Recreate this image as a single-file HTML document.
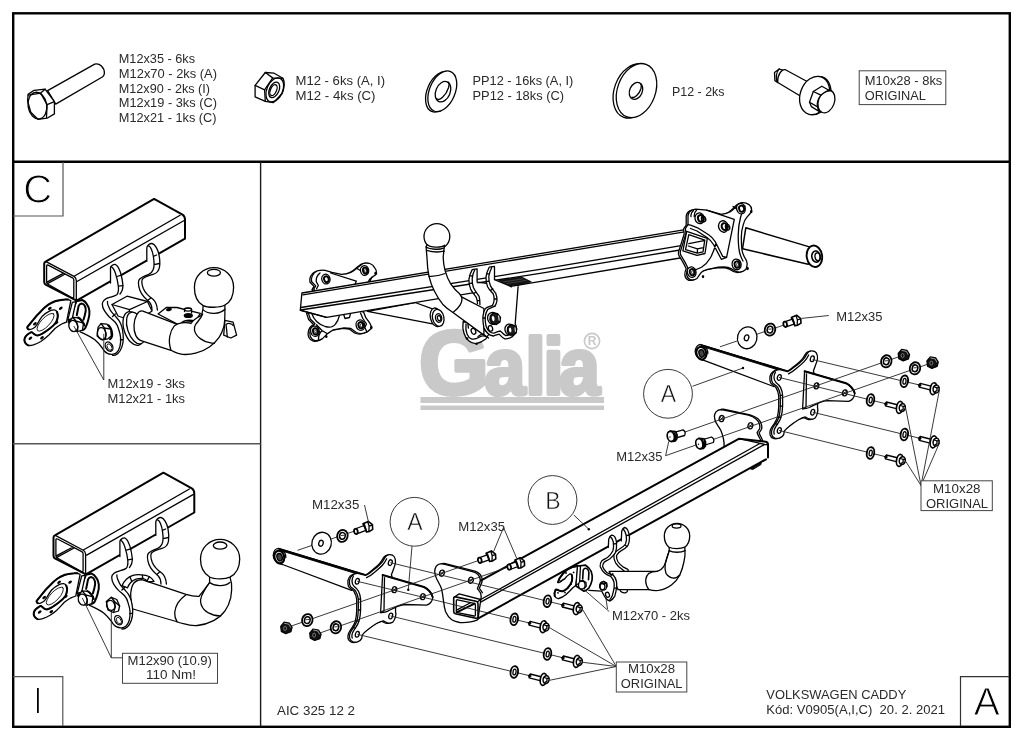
<!DOCTYPE html>
<html lang="cs"><head><meta charset="utf-8"><title>Galia AIC 325 12 2 - Volkswagen Caddy</title>
<style>
html,body{margin:0;padding:0;background:#fff;}
body{width:1024px;height:739px;overflow:hidden;}
svg{display:block;filter:grayscale(1);}
text{font-family:"Liberation Sans",sans-serif;fill:#222;}
.t{font-size:12.4px;fill:#2a2a2a;}
.k{fill:none;stroke:#000;stroke-width:1.3;stroke-linecap:round;stroke-linejoin:round;}
.k2{fill:none;stroke:#000;stroke-width:2;stroke-linecap:round;stroke-linejoin:round;}
.k3{fill:none;stroke:#000;stroke-width:0.8;stroke-linecap:round;stroke-linejoin:round;}
.w{fill:#fff;stroke:#000;stroke-width:1.3;stroke-linecap:round;stroke-linejoin:round;}
.w2{fill:#fff;stroke:#000;stroke-width:2;stroke-linecap:round;stroke-linejoin:round;}
.w3{fill:#fff;stroke:#000;stroke-width:0.8;stroke-linecap:round;stroke-linejoin:round;}
.l{fill:none;stroke:#222;stroke-width:0.9;}
.b{fill:#fff;stroke:#444;stroke-width:1;}
.d{fill:#000;stroke:none;}
</style></head><body>
<svg width="1024" height="739" viewBox="0 0 1024 739">
<rect x="0" y="0" width="1024" height="739" fill="#fff"/>
<g id="logo"><title>Galia</title>
<text transform="translate(0,394.3) scale(0.92,1)" x="455.5 526.5 571 590.5 607.5" y="0" style="font-family:'Liberation Sans',sans-serif;font-weight:bold;font-size:80px;fill:#c9c9c9;stroke:#c9c9c9;stroke-width:4;stroke-linejoin:round"><tspan style="font-size:90px" textLength="76" lengthAdjust="spacingAndGlyphs">G</tspan>alia</text>
<rect x="420.5" y="397" width="183.5" height="6" fill="#c9c9c9"/>
<rect x="420.5" y="405.5" width="183.5" height="4.5" fill="#c9c9c9"/>
<circle cx="592" cy="341" r="7.6" fill="none" stroke="#c9c9c9" stroke-width="1.6"/>
<text x="592" y="345.4" text-anchor="middle" style="font-size:12px;font-weight:bold;fill:#c9c9c9">R</text>
</g>
<g id="frame">
<rect x="13.2" y="13.3" width="996.6" height="713.5" fill="none" stroke="#000" stroke-width="2.4"/>
<line x1="13" y1="161.85" x2="1009.8" y2="161.85" stroke="#000" stroke-width="2.5"/>
<line x1="260.6" y1="162" x2="260.6" y2="726" stroke="#1a1a1a" stroke-width="1.4"/>
<line x1="13" y1="443.8" x2="260.6" y2="443.8" stroke="#555" stroke-width="1.5"/>
<path d="M63 162V216H13" fill="none" stroke="#555" stroke-width="1.2"/>
<path d="M13 676.6H62.8V726" fill="none" stroke="#555" stroke-width="1.2"/>
<path d="M1009 676.6H960.5V726" fill="none" stroke="#333" stroke-width="1.2"/>
</g>

<g id="icon-bolt-m12">
<path class="w" d="M47.6 90.6L94.7 64.1C99.5 62.6 104.6 67.6 104.4 73.3C104.2 75 103.4 76.3 102.3 77L55.7 104.1Z"/>
<path class="w" d="M28.1 94.4L34.1 90.3L45.1 89.2L54.4 101.7V113.9L47.1 118.2L37.9 119.3L30.8 112.2L27.6 100.9Z"/>
<ellipse class="k" cx="37.4" cy="105.6" rx="9.3" ry="13.4" transform="rotate(-9 37.4 105.6)"/>
<path class="k" d="M28.3 95.2L40.6 93.1L47.1 104.7L46.5 117.3M47.1 104.7L54.4 101.7M40.6 93.1L45.1 89.2"/>
</g>
<g id="icon-nut-m12">
<path class="w" d="M255.1 85.4L265.3 72.5L274.1 73.2L282.9 78.3C284.4 81 284.4 84.5 283.9 87.1C283.6 89.6 283 92 281.9 93.8L273.4 102.6L265.3 101.3L255.1 96.9Z"/>
<path class="k" d="M265.3 72.5L272.7 77.9L282.9 78.3M272.7 77.9L264.6 89.8L255.1 85.4M264.6 89.8L265.3 101.3"/>
<ellipse class="k" cx="274.8" cy="89.9" rx="7.9" ry="12.7" transform="rotate(24 274.8 89.9)"/>
<ellipse class="k" cx="274.2" cy="89.9" rx="4.8" ry="8.2" transform="rotate(24 274.2 89.9)"/>
<ellipse class="k" cx="273.5" cy="90.1" rx="3" ry="5.8" transform="rotate(24 273.5 90.1)"/>
</g>
<g id="icon-washer-pp12">
<ellipse class="w" cx="440" cy="91.7" rx="12.8" ry="21.4" transform="rotate(23 440 91.7)"/>
<ellipse class="w" cx="442.3" cy="91.3" rx="12.8" ry="21.4" transform="rotate(23 442.3 91.3)"/>
<ellipse class="k" cx="443" cy="91.7" rx="7.2" ry="10.7" transform="rotate(23 443 91.7)"/>
<path class="k" d="M436.8 98.6C439 101.5 446 96 448.6 87.5C449.4 84.6 449 82.9 448.4 82.2"/>
</g>
<g id="icon-washer-p12">
<ellipse class="w" cx="633.3" cy="91.1" rx="19" ry="27.9" transform="rotate(20 633.3 91.1)"/>
<ellipse class="w" cx="636.5" cy="90.6" rx="19" ry="27.9" transform="rotate(20 636.5 90.6)"/>
<ellipse class="k" cx="636" cy="90.9" rx="6.3" ry="8.8" transform="rotate(24 636 90.9)"/>
<path class="k" d="M632 97.2C634 98.6 639.5 94 641 88.5C641.5 86 641.3 84.8 640.9 84"/>
</g>
<g id="icon-flangebolt">
<path class="w" d="M779.2 69L774.5 72.5L774.9 80.6L777.8 82.5L801.5 96.7L809 82.5L785.4 69.7C784.3 69.4 783.3 69.6 782.5 70.2Z"/>
<path class="k" d="M782.5 70.2C780.5 71.5 779 74 778.2 77C777.7 79.3 777.6 81 777.8 82.5M779.2 69C778 70 776.6 72.5 776.4 75.5C776.3 78 776.4 80 777 81.9"/>
<ellipse class="w" cx="815.9" cy="95.5" rx="14.5" ry="19.6" transform="rotate(19 815.9 95.5)"/>
<ellipse class="w" cx="814.7" cy="95.5" rx="14.5" ry="19.6" transform="rotate(19 814.7 95.5)"/>
<ellipse class="w" cx="826.4" cy="101.4" rx="8" ry="11.8" transform="rotate(20 826.4 101.4)"/>
<path class="w" d="M813.3 91.5L821.8 86.25L830.3 91C829 90.3 825 91.5 820.9 95.2C818 99 816.6 103.5 817.6 106.9C817.8 109 818.5 110.8 819.5 111.8L811.4 106.6L809.5 102.3Z"/>
<path class="k" d="M813.3 91.5L820.9 95.2M809.5 102.3L817.6 106.9"/>
</g>

<g id="panelC">
<g id="c-socket">
<path class="w" d="M70.8 300.6C68 299.3 66 299.3 64.7 299.5C61.5 299.8 58.5 300.2 55.7 301C53 302 50.5 303.2 48.3 304.7C45.5 306.7 43 309 40.8 311.4C38 314 35.5 316.8 33.4 319.6C31.2 322.3 29 325 27.4 327C27.1 327.5 27.2 327.8 27.4 328.1C27.7 328.8 28 329.2 28.6 329.4C29.5 329.6 30.4 329.5 31.2 329.25C32.5 328.8 33.8 328 34.9 327.2C35.7 326.4 36.4 325.4 37.1 324.4C38.7 321.6 40.3 318.7 42.3 316.2C44.5 314 47 312.2 49.8 310.8C51.2 310.2 52.8 309.8 54.25 309.9C55.5 310 56.4 310.7 56.9 311.75C57.6 313.2 57.9 315 57.75 316.6C57.6 318.5 57 320.5 56.1 322.2C54.5 324.6 52.2 326.6 49.8 328.5C47.4 330.4 44.8 332.2 42.3 333.7C40.8 334.5 39 335.3 37.5 335.6C36.2 335.6 35 334.9 34.1 334.1C33.3 333.5 32.6 332.7 31.9 332.2C31.2 332 30.4 332.5 29.7 333C28.5 333.7 27.3 334.6 26.3 335.6C25.5 336.6 24.8 337.8 24.5 338.9C24.2 340.2 24.5 341.6 25.2 342.7C25.9 343.9 27 344.8 28.2 345.3C29.8 345.7 31.7 345.4 33.4 344.9C36 344 38.5 342.8 40.8 341.5C43.5 339.8 46 337.7 48.3 335.6C50.6 333.3 52.8 330.8 55 328.5C57.2 326.8 59.5 325.3 61.7 324C63.3 323.3 65 322.7 66.5 322.2Z"/>
<path class="k2" d="M68 299.5C66 299.3 65.5 299.4 64.7 299.5C61.5 299.8 58.5 300.2 55.7 301C53 302 50.5 303.2 48.3 304.7C45.5 306.7 43 309 40.8 311.4C38 314 35.5 316.8 33.4 319.6C31.2 322.3 29 325 27.4 327C27.1 327.5 27.2 327.8 27.4 328.1C27.7 328.8 28 329.2 28.6 329.4"/>
<path class="k2" d="M56.9 311.75C57.6 313.2 57.9 315 57.75 316.6C57.6 318.5 57 320.5 56.1 322.2C54.5 324.6 52.2 326.6 49.8 328.5C47.4 330.4 44.8 332.2 42.3 333.7C40.8 334.5 39 335.3 37.5 335.6C36.2 335.6 35 334.9 34.1 334.1C33.3 333.5 32.6 332.7 31.9 332.2C31.2 332 30.4 332.5 29.7 333C28.5 333.7 27.3 334.6 26.3 335.6C25.5 336.6 24.8 337.8 24.5 338.9C24.2 340.2 24.5 341.6 25.2 342.7C25.9 343.9 27 344.8 28.2 345.3"/>
<ellipse class="k3" cx="45.6" cy="322.2" rx="11.6" ry="4.3" transform="rotate(-46.5 45.6 322.2)"/>
<ellipse class="d" cx="49.8" cy="308.4" rx="2.1" ry="1.3" transform="rotate(-35 49.8 308.4)"/><ellipse class="d" cx="60.8" cy="308.3" rx="2.1" ry="1.3" transform="rotate(-35 60.8 308.3)"/><ellipse class="d" cx="34.9" cy="323.7" rx="2.1" ry="1.3" transform="rotate(-35 34.9 323.7)"/><ellipse class="d" cx="56.5" cy="322.7" rx="2.1" ry="1.3" transform="rotate(-35 56.5 322.7)"/><ellipse class="d" cx="30.4" cy="338.2" rx="2.1" ry="1.3" transform="rotate(-35 30.4 338.2)"/><ellipse class="d" cx="42" cy="337.8" rx="2.1" ry="1.3" transform="rotate(-35 42 337.8)"/>
</g>
<g id="c-tube">
<path class="w2" d="M46 261.4L154.1 198.9L182.5 214.6Q185 216.2 185 219.5V238.7L76.6 300.6L45.6 284.6Q44.2 283.8 44.2 282V263.5Q44.3 261.7 46 261.4Z"/>
<path class="k" d="M46 261.6L74 276.4Q76.2 277.8 76.3 280.5V300.5M74.5 276L180.1 215.2M77.4 281.3L184.6 220.3"/>
<path class="k" d="M48.2 265.2L72.5 277.8Q73.8 278.6 73.8 280V296.5Q73.8 298.6 72 297.7L47.6 284Q46.6 283.4 46.6 282.2V266.2Q46.7 264.5 48.2 265.2ZM46.9 282.1L63.2 273.4M47.5 283.6L64.4 274.5"/>
</g>
<g id="c-rear">
<!-- rear plate with hook 2 -->
<path d="M146.8 261.4V247.9C147 245.5 149.5 243.4 152 243.5C155 244 158 249.5 159 254.9C159.9 259.5 160 264 159.5 267C158.8 271.5 156 273.6 153 274.4C149.5 275.3 145 276.8 142.8 278.7C141.3 280.3 141.3 283 143.3 288.5C145 292.5 149 296.5 153 299.3C155.7 301.6 157 305 157.4 310L152 311C152 306.6 151 303.8 149.3 302C146 299.3 141.5 294.5 140 290.6C138 284.6 138 281 139.5 279.3C141 277.6 143 276.8 144 276.4L146.8 268Z" fill="#fff" stroke="none"/>
<path class="k" d="M146.8 261.4V247.9C147 245.5 149.5 243.4 152 243.5C155 244 158 249.5 159 254.9C159.9 259.5 160 264 159.5 267C158.8 271.5 156 273.6 153 274.4C149.5 275.3 145 276.8 142.8 278.7C141.3 280.3 141.3 283 143.3 288.5C145 292.5 149 296.5 153 299.3C155.7 301.6 157 305 157.4 310"/>
<path class="k" d="M148.3 245.9C150.5 246 152.8 251.5 153.6 258.1C154.3 263 154.2 267.5 153 270C152 272.6 150.5 273.6 148.7 274.4C145.5 275.6 141.5 277 139.5 279.3C138 281 138 284.6 140 290.6C141.5 294.5 146 299.3 149.3 302C151 303.8 152 306.6 152 310M153.4 256.4L156.6 255M154.1 264.6L159.3 263.5M147.6 300.4L150.7 298.1"/>
</g>
<g id="c-hitch">
<!-- connecting block -->
<path class="w" d="M112 304.5L127 296.2L147.5 301.5L152 311L136 322L118 316Z"/>
<path class="k" d="M112 304.5L129.5 309.6L147.5 301.5M129.5 309.6L127.5 321"/>
<!-- ring collar + cylinder -->
<ellipse class="w" cx="133.5" cy="328.5" rx="9.5" ry="17.5" transform="rotate(-18 133.5 328.5)"/>
<ellipse class="w" cx="136" cy="328" rx="8.5" ry="16.5" transform="rotate(-18 136 328)"/>
<path class="w" d="M142.9 311.1L179.2 325.1L171 350.3L141.7 340.9C136.5 339.3 133.6 333 134 325C134.5 317 138 309.8 142.9 311.1Z"/>
<!-- flat plate on top -->
<path class="w" d="M158.1 314L166.3 307.5L176.9 307.5L200.3 313.4L195.6 321L181.6 322.8L179.2 325.1Z"/>
<ellipse class="d" cx="169" cy="309.6" rx="3" ry="1.6" transform="rotate(-10 169 309.6)"/>
<path class="w" d="M184.5 311.5V309.5C184.5 307.6 191.6 307.6 191.6 309.5V313"/>
<ellipse class="k" cx="188" cy="309.5" rx="3.5" ry="1.6"/>
<ellipse class="d" cx="188.3" cy="315.5" rx="4.6" ry="2.6"/>
<path class="k" d="M181.6 322.8C184 320.5 190 319.8 195.6 321"/>
<!-- small cup right -->
<path class="w" d="M224.9 320.3L233.1 322.2L236.6 335.1L230.8 338L223.7 335.1Z"/>
<path class="k" d="M226 324.5C228 322.8 232 323.3 233.1 325.5M227.3 337C227 333 226.5 328 226 324.5"/>
<!-- elbow + neck -->
<path class="w" d="M174.5 325.7C178 323 185 321.5 191 323.5C193 320.5 197 317.5 200.5 316C202 314.5 203 310 203.2 305.2L224.9 304.6L224.9 309.3C225 318 224.8 323 223.75 326.9C222.6 331 221 334.5 219.1 337.4C216.5 341 213.5 344.2 209.7 346.8C205.5 349.8 200.5 352.2 195.6 353.2C191.5 354.2 187 354.7 182.7 354.4C178.5 354 174.5 352.2 171 350.3C169.5 346 169 340.5 169.8 336.25C170.6 332 172.3 328.3 174.5 325.7Z"/>
<path class="k" d="M202.7 314C201 318.5 197.5 321.8 195.6 324.5C194.3 326.5 194 328.5 194.5 330.4C195.3 333.5 197.5 336.6 200.3 338.6C203 340.6 206.5 342.2 209.7 342.7C211.5 343.2 213 343.4 214.4 343.3M203.2 309.9C206 312.6 210 313.5 214.4 313.4C218.5 313.2 222.5 311.8 224.9 309.3"/>
<!-- ball -->
<path class="w" d="M203.2 305.6C197.5 302.5 194.4 295.5 194.4 287.2C194.4 276.3 203.2 267.6 214 267.6C224.8 267.6 233.6 276.3 233.6 287.2C233.6 295.5 230.5 302 224.9 305C220 307.8 208 308 203.2 305.6Z"/>
<ellipse class="k" cx="213.9" cy="272.7" rx="6.5" ry="3.4"/>
</g>
<g id="c-front">
<!-- front plate fill -->
<path d="M110.5 283V267.9C110.6 265.8 113.5 264.2 115.2 264.3C117.5 265 119.2 268.8 120.5 272.5C121.5 276 122.5 280.5 122.9 285C123 288 122.6 291 120 294L108.4 306C109.5 309 111 311.4 113 313.5C116 316.5 119.5 321 120.6 323.6C122 327 123 333 123.3 338.5C123.3 343 122.8 345 122 346.6C121 350 119.5 352 117.9 353.4C116 355 114 355.6 112.5 355.4L111.1 354.3C108.5 354.2 105.7 352.7 104 350.5C102 347.5 98 343 94.9 339.8C90 336 85 334 80 331.7L84 318L95 305L110.5 290Z" fill="#fff" stroke="none"/>
<path class="k" d="M110.5 283V267.9C110.6 265.8 113.5 264.2 115.2 264.3C117.5 265 119.2 268.8 120.5 272.5C121.5 276 122.5 280.5 122.9 285C123 288 122.6 291 120 294"/>
<path class="k" d="M111.1 266.6C113 267.5 114.4 270 115.5 273.5C116.5 276.5 117.8 281.5 118.4 286.7C118.6 289 118.5 291 118 292.5C117.6 293.8 117.3 294.3 116.8 294.8C115 296 112.5 296.6 110.3 297.2C107.5 298 105.5 298.8 104.6 299.7C103 301 102.3 302.3 102.3 303.7C102.3 306 103 308.5 104.4 310.7C105.8 313 107.5 315 109.1 316.8C111 318.7 113.5 320.3 115.2 322.2C117 324.3 118 326.5 118.6 329C119.6 332 120.5 335 120.6 337.8C120.8 341 120.6 344 119.9 346.6C119.2 349 118 351.4 116.5 352.7C115 354 113 354.5 111.1 354.3C108.5 354.2 106 353 104.3 351C103.3 350 102.8 349 102.3 348C100 345 97.5 342 94.9 339.8C90.5 336.5 85 334 80 331.7"/>
<path class="k" d="M107.5 301.3C107.3 303 107.6 304.5 108.4 306C109.2 308 110 310 111.1 311.4C112.8 313.5 114.8 315.5 116.5 317.5C118.3 319.3 119.8 321.5 120.6 323.6C121.6 325.8 122.2 328 122.6 330.4C123 333 123.4 336 123.3 338.5C123.2 341.5 122.8 344.5 122 346.6C121 349.5 119.7 352 117.9 353.4C116.3 354.8 114.5 355.5 112.5 355.4M112.5 316.5L115.3 314M120.4 340L123.2 339.5M117 276.5L121.3 275.2M118.5 286.2L122.8 285.6"/>
<!-- hole -->
<ellipse class="k" cx="109.1" cy="346.6" rx="3.4" ry="5" transform="rotate(-30 109.1 346.6)"/>
<ellipse class="k3" cx="109.5" cy="347" rx="2.1" ry="3.5" transform="rotate(-30 109.5 347)"/>
<!-- loop strap -->
<path class="w2" d="M76.4 301.2L82.3 300C84.3 300.8 85.8 302.3 86.8 304.1C88.2 306 89.2 308.4 89.4 310.8C89.7 314 89.2 317 88.3 319.8C87.6 322.8 86.5 325.6 85.3 328C84.5 329.2 83.5 329.9 82.3 330.2L68.5 322Z"/>
<path class="k2" d="M76.75 315.3L78.6 306C79.2 304.4 80.4 303.5 81.6 303.4C83.1 303.5 84.3 304.6 84.9 306C85.6 307.5 85.9 309.2 85.7 310.8C85.3 314 84.4 317 83.5 319.8"/>
<path class="w" d="M72.3 302.3L67.8 319.8L72.3 318.5L75.9 301.7Z"/>
<!-- bolt 1 -->
<path class="w" d="M68.8 322.2L72.7 317.3L78.6 317.8L83.5 323.2L82.5 330L77.6 331.5L71.8 330.5Z"/>
<ellipse class="w" cx="73.3" cy="326" rx="4.4" ry="5.6" transform="rotate(-15 73.3 326)"/>
<path class="k" d="M72.7 317.3L76.2 321.2L77.8 326.5L77.6 331.5M76.2 321.2L83.5 323.2"/>
<path class="k2" d="M78 317.5C80.5 318.5 83.6 322 84.4 325.5"/>
</g>
<g id="c-bolt2">
<!-- bolt 2 -->
<path class="w" d="M98.1 327.1L101 323.7L106.9 324.2L110.8 329.1L111.3 335.9L107.9 338.8L102 339.8L97.1 335.9Z"/>
<path class="k2" d="M108.5 325.2C110.6 327.5 112 330.5 112.2 334C112.3 336.5 111.5 338.2 110 339.3"/>
<ellipse class="k" cx="101.7" cy="333.6" rx="4.3" ry="6" transform="rotate(-10 101.7 333.6)"/>
<path class="k" d="M101 323.7L104.5 328L106 334.5L105.4 339.3M104.5 328L110.8 329.1"/>
</g>
<!-- leaders -->
<path class="l" d="M73.8 326L103.8 380V333.8"/>
</g>

<g id="panelI">
<use href="#c-socket" transform="translate(9.3,273.8)"/>
<use href="#c-tube" transform="translate(9.3,273.8)"/>
<use href="#c-rear" transform="translate(9,274)"/>
<g id="i-hitch">
<!-- bar -->
<path class="w" d="M142.6 579.8L186 594.3C190 595.5 195 596.5 199 596.3C201.5 593 204 590.5 205.5 588C207.5 585.5 209 583.5 209.6 582.5V576L229.9 576.8L231.5 583.3C232 588 231.6 593 230.7 597.9C229.5 603 227.5 607.5 225 610.9C222 615 218 618.3 213.6 620.6C208.5 623.2 203 625 197.4 625.5C193 625.8 188.5 625.2 184.4 623.9C181.5 623.3 179 622.5 176.3 621.5L132.9 609C131.6 607 131.1 604.5 131.3 602C130.8 599 130.6 596 130.7 593.3C131 590.5 131.5 588 132.3 585.7C134 582 138 579.5 142.6 579.8Z"/>
<path class="k" d="M186 594.8C183 597 180 600 177.9 602.8C176 606 175 609.5 174.7 612.5C174.6 616 175.5 619.5 177.1 621.9M209.6 582.5C207.5 585.5 205.5 588.5 203.9 591.4C202.3 594 201 596.8 200.6 599.5C200.3 603 201.5 606.5 203.9 609.3C206.3 612 210 614 213.6 615C216 615.6 218.5 615.9 220.9 615.8M209.6 582.5C213 585 216.5 585.8 220.1 585.7C224 585.6 227.5 584.5 229.9 582.5"/>
<!-- ball -->
<path class="w" d="M209.6 577C203.8 573.5 200.5 567 200.5 559C200.5 548.2 209.3 539.4 220.1 539.4C230.9 539.4 239.7 548.2 239.7 559C239.7 567 236 574 229.9 577.2C225 579.6 214 579.4 209.6 577Z"/>
<ellipse class="k" cx="220.1" cy="545.6" rx="6.8" ry="3.6"/>
<!-- sleeve arc -->
<path class="w" d="M122.1 585.7C123 583 124.5 581 126.4 579.2C128.3 577.5 130.5 576.2 132.9 575.4C135.6 574.6 138.6 574.5 141.5 574.9C144.2 575.1 147 575.6 149.1 576.5C151 577.6 152.8 579.3 154 581.4L148 581.6C146.5 580 144.5 578.8 142.6 578.4C140.5 578.2 138.2 578.5 136.1 579.2C134 580 132.2 581.1 130.7 582.5C129.3 584 128.2 586 127.5 587.9Z"/>
<path class="k" d="M130 577L131.8 581.6M142.3 575L142.8 578.4M149.3 576.6L147 581"/>
</g>
<use href="#c-front" transform="translate(9.4,273.6)"/>
<path class="l" d="M122.5 657.8H111.3L82.3 598M111.3 657.8V606.5"/>
</g>
<g id="i-bolt2">
<path class="w" d="M106.3 601.5L111.3 597.3L116.8 599.5L119.6 606L118.5 611L113.5 612.5L108 610Z"/>
<ellipse class="k" cx="110.7" cy="605.4" rx="4" ry="5" transform="rotate(-20 110.7 605.4)"/>
<path class="k" d="M111.3 597.3L114.5 601.5L115.3 607L113.5 612.5M114.5 601.5L119.6 606"/>
</g>

<g id="upper">
<!-- right arm -->
<path class="w" d="M745.8 227.8L809.4 246.9L814 256L808.2 264.2L742.5 248.8Z" style="stroke-width:1.5"/>
<ellipse cx="814.4" cy="256.3" rx="7.7" ry="10.8" transform="rotate(-8 814.4 256.3)" fill="#fff" stroke="#000" stroke-width="1.9"/>
<ellipse cx="816" cy="256.6" rx="4.2" ry="5.6" transform="rotate(-8 816 256.6)" fill="#fff" stroke="#000" stroke-width="1.6"/>
<ellipse class="k" cx="817.6" cy="256.8" rx="2.6" ry="3.9" transform="rotate(-8 817.6 256.8)"/>
<!-- left bracket (behind beam) -->
<path transform="translate(-1.7,0.5)" class="w" d="M313.7 289.2L315.7 285.9L311.7 281.8C311.2 279.5 311.4 277.5 312.3 275.7C313.5 273.5 315 272 317.1 271C319.8 270.2 322.5 270 325.2 270.3L331.9 272.3L341.4 274.4C344.8 274.2 348 273.5 350.9 272.3C353.5 271 355.8 269.4 357.7 267.6L363.1 263.5C365.4 262.8 367.6 262.8 369.8 263.5C372 264.4 373.7 265.8 374.6 267.6C376.2 269.5 376.9 271.5 376.6 273.7C375.7 275 374.6 275.8 373.2 276.4L369.8 279.1L366 286L320 296Z"/>
<path class="w" d="M313.7 289.2L315.7 285.9L311.7 281.8C311.2 279.5 311.4 277.5 312.3 275.7C313.5 273.5 315 272 317.1 271C319.8 270.2 322.5 270 325.2 270.3L331.9 272.3L341.4 274.4C344.8 274.2 348 273.5 350.9 272.3C353.5 271 355.8 269.4 357.7 267.6L363.1 263.5C365.4 262.8 367.6 262.8 369.8 263.5C372 264.4 373.7 265.8 374.6 267.6C376.2 269.5 376.9 271.5 376.6 273.7C375.7 275 374.6 275.8 373.2 276.4L369.8 279.1L366 286L320 296Z"/>
<path class="k" d="M330.6 273L356.3 281.1L355 284.5M320 273C317.5 275 316 278 316.2 281.5L318.3 285.5L316.5 289M357 268.5L362 271.5M372 277L370 281L367.5 285"/>
<path transform="translate(-1.7,0.5)" class="w" d="M308.3 312.9L310.3 319L315 323.7C312.5 325.5 311 327.5 310.3 329.8C309.6 332.2 309.6 334.5 310.3 336.6C311.3 338.8 313 340.2 315 340.7C317.7 341 320.3 340.2 322.5 338.6L327.2 333.9L333.3 329.8L344.1 327.8L350.9 328.5L356.3 332.5C358.8 333.6 361.3 333.8 363.7 333.2C366.5 332.5 369.3 330.8 371.2 328.5C371.4 326.6 371 324.8 369.8 323.1L365.8 317.7L363.7 312.2L340 305Z"/>
<path class="w" d="M308.3 312.9L310.3 319L315 323.7C312.5 325.5 311 327.5 310.3 329.8C309.6 332.2 309.6 334.5 310.3 336.6C311.3 338.8 313 340.2 315 340.7C317.7 341 320.3 340.2 322.5 338.6L327.2 333.9L333.3 329.8L344.1 327.8L350.9 328.5L356.3 332.5C358.8 333.6 361.3 333.8 363.7 333.2C366.5 332.5 369.3 330.8 371.2 328.5C371.4 326.6 371 324.8 369.8 323.1L365.8 317.7L363.7 312.2L340 305Z"/>
<path class="k" d="M311.7 313.5C314 320 318.5 324.5 325.2 326.5C330 327.8 333.5 327 335.5 324C337.5 321.5 338.7 318.5 339.4 315.6M316.5 324.8L322 330.5L327 333.5M322 330.5C319.5 333 318.3 336 318.5 339.8M360.5 313L362.8 318.5L366.5 324L364.8 327.5L367 332M343.5 314L345 318.5L349.5 317.5L350.5 313.5"/>
<g id="ub1"><ellipse class="w" cx="325.9" cy="279.1" rx="4.1" ry="4.9" transform="rotate(-15 325.9 279.1)"/><ellipse class="k" style="stroke-width:1.9" cx="326.4" cy="279.2" rx="2.3" ry="3" transform="rotate(-15 326.4 279.2)"/></g>
<g><ellipse class="w" cx="364.6" cy="270.5" rx="4.1" ry="4.9" transform="rotate(-15 364.6 270.5)"/><ellipse class="k" style="stroke-width:1.9" cx="365.3" cy="270.6" rx="2.3" ry="3" transform="rotate(-15 365.3 270.6)"/><ellipse class="k3" cx="365.8" cy="270.7" rx="1.2" ry="1.7"/><ellipse class="d" cx="375.6" cy="273.3" rx="1.3" ry="1.8"/></g>
<g><ellipse class="w" cx="360.4" cy="325.1" rx="4.3" ry="5.2" transform="rotate(-15 360.4 325.1)"/><ellipse class="k" style="stroke-width:1.9" cx="360.9" cy="325.2" rx="2.5" ry="3.2" transform="rotate(-15 360.9 325.2)"/><ellipse class="k3" cx="361.4" cy="325.3" rx="1.2" ry="1.7"/><ellipse class="d" cx="371.4" cy="327.5" rx="1.2" ry="1.7"/></g>
<g><ellipse class="w" cx="315" cy="331.2" rx="4.3" ry="5.2" transform="rotate(-15 315 331.2)"/><ellipse class="k" style="stroke-width:1.9" cx="315.5" cy="331.3" rx="2.5" ry="3.2" transform="rotate(-15 315.5 331.3)"/><ellipse class="k3" cx="316" cy="331.4" rx="1.2" ry="1.7"/><ellipse class="d" cx="326.3" cy="336.5" rx="1.2" ry="1.6"/></g>
<!-- left brace -->
<path class="w" d="M367.5 311.3L415 302.5L432.5 308.8L432.5 323.8Z"/>
<ellipse class="w" cx="436" cy="317.3" rx="5.6" ry="9.4" transform="rotate(-12 436 317.3)"/>
<ellipse class="w" cx="438.2" cy="317.8" rx="5.7" ry="8.6" transform="rotate(-12 438.2 317.8)"/>
<ellipse class="k" cx="438.6" cy="318" rx="3.1" ry="4.3" transform="rotate(-12 438.6 318)"/><ellipse class="k" cx="439.1" cy="318.1" rx="1.7" ry="2.6" transform="rotate(-12 439.1 318.1)"/>
<!-- beam -->
<path class="w" d="M301.9 293L686.7 229.4L707.3 238.4L705 253.5L697 255.4L686 257L326.5 317.4L300.3 310.2Z"/>
<path class="k" d="M302.9 294.9L686 231.6M300.8 307.5L540 269.3L684 245.2M300.5 310L540 273.4L683 249.5M326.5 317.4L300.4 310.3"/>
<path d="M499 280.5L521.5 277L531.3 281.8L511.5 286.9Z" fill="#151515" stroke="#000" stroke-width="0.8" stroke-linejoin="round"/>
<path d="M503 282L523 278.8M506.5 283.6L526.5 280.3" stroke="#777" stroke-width="0.45" fill="none"/>
<!-- right bracket -->
<g id="u-rb">
<path transform="translate(-1.8,0.5)" class="w" d="M688 224.6L688 215.6C688.5 213 690 211 691.9 210.2C693 209.5 694.3 209.2 695.7 209.1L706.6 210.2L721.4 214.3C724.8 214 728 213 730.4 211.7C733 210 735 208 736.8 205.9C738.3 204.3 740 203.2 742 202.7C744.5 202.5 747 203.2 749 204.6C750.8 206 751.7 208 751.6 210.4C751 213 749.3 215 747.1 216.9C745.3 219 744 221.8 743.3 224.6C742 228.5 741.3 233 741.3 237.4C741.3 242 741.6 246.4 742 250.3C742.8 253.8 744 256.8 745.8 259.3C746.8 260.8 747.2 262.5 747.1 264.4C747 266.5 746.6 268.2 745.8 269.6C744 271.2 741.8 272 739.4 272.1C736.5 271.8 734 270.6 731.7 268.9C729.4 267.7 726.8 267.1 724 267C720 267 716 267.5 712.4 268.3C709 268.9 706 269.7 703.4 270.8C701.8 271.8 700.5 273.1 699.6 274.7L697 278.5C695 279.8 692.8 280.2 690.6 279.8C688.5 279 687 277.2 686.7 274.7C686.5 272.5 687 270.3 688 268.3C686.8 265.5 685.5 263 684.1 260.6L680.9 255.4C680.3 254 680.1 252.8 680.3 251.6L686 233.5L685.4 228.4Z"/>
<path class="w" d="M688 224.6L688 215.6C688.5 213 690 211 691.9 210.2C693 209.5 694.3 209.2 695.7 209.1L706.6 210.2L721.4 214.3C724.8 214 728 213 730.4 211.7C733 210 735 208 736.8 205.9C738.3 204.3 740 203.2 742 202.7C744.5 202.5 747 203.2 749 204.6C750.8 206 751.7 208 751.6 210.4C751 213 749.3 215 747.1 216.9C745.3 219 744 221.8 743.3 224.6C742 228.5 741.3 233 741.3 237.4C741.3 242 741.6 246.4 742 250.3C742.8 253.8 744 256.8 745.8 259.3C746.8 260.8 747.2 262.5 747.1 264.4C747 266.5 746.6 268.2 745.8 269.6C744 271.2 741.8 272 739.4 272.1C736.5 271.8 734 270.6 731.7 268.9C729.4 267.7 726.8 267.1 724 267C720 267 716 267.5 712.4 268.3C709 268.9 706 269.7 703.4 270.8C701.8 271.8 700.5 273.1 699.6 274.7L697 278.5C695 279.8 692.8 280.2 690.6 279.8C688.5 279 687 277.2 686.7 274.7C686.5 272.5 687 270.3 688 268.3C686.8 265.5 685.5 263 684.1 260.6L680.9 255.4C680.3 254 680.1 252.8 680.3 251.6L686 233.5L685.4 228.4Z"/>
<path class="k" d="M691 216.5C690.6 214 691.5 212 693.5 210.5M694.3 216.7C694 214 694.8 211.8 696.5 210.3M688 224.6L690.6 225.2L697.6 227.8L708.6 234.8C711.5 236.8 713.5 239 715 241.3L722.7 256.4L726.6 257.3L734.3 219.4L706.6 210.2M690.5 228.5L697 231L707 237.5C710 239.7 712 242 713.5 244.5L721.3 259.3L726.6 257.3M745 206C743 209.5 741.5 213.5 740.5 217.5C739 223 738.3 229 738.2 235.5C738.2 241.5 738.6 247.5 739.5 252C740.3 255.5 741.5 258.5 743 261M716 243.5C714.5 249 712.5 254 710.3 258C708 262 705 265 701.5 267.3C698.5 269 695 270 692 270M688 268.3C690 271 692.5 273 695.5 274.3M733 206.5L737.5 209.5"/>
<!-- tube end -->
<path class="w" d="M686.7 231.4L707.3 238.4L705 253.5L697 255.4L682.9 250.9Z"/>
<path class="k" d="M688.8 234.6L704.8 240.2L703 251.8L697.3 253.2L685.5 249.6ZM688.8 243.6L704 240.6M688.3 246L697.5 248.8L703.3 247.6M697.5 248.8L697.3 253.2"/>
<g><ellipse class="w" cx="699.6" cy="218.3" rx="4.6" ry="5.4" transform="rotate(-15 699.6 218.3)"/><ellipse class="k2" cx="700.6" cy="218.4" rx="2.6" ry="3.3" transform="rotate(-15 700.6 218.4)"/><ellipse class="k" cx="703.6" cy="219" rx="2.1" ry="2.9" transform="rotate(-15 703.6 219)"/></g>
<g><ellipse class="w" cx="723.4" cy="226.5" rx="4.8" ry="5.8" transform="rotate(-15 723.4 226.5)"/><ellipse class="k2" cx="724.4" cy="226.6" rx="2.7" ry="3.5" transform="rotate(-15 724.4 226.6)"/><ellipse class="k" cx="727.6" cy="227.3" rx="2.1" ry="2.9" transform="rotate(-15 727.6 227.3)"/></g>
<g><ellipse class="w" cx="741" cy="208.6" rx="4.3" ry="5.2" transform="rotate(-15 741 208.6)"/><ellipse class="k" style="stroke-width:1.9" cx="741.6" cy="208.7" rx="2.5" ry="3.2" transform="rotate(-15 741.6 208.7)"/><ellipse class="d" cx="751.3" cy="211.5" rx="1.2" ry="1.7"/></g>
<g><ellipse class="w" cx="736.6" cy="264.4" rx="4.5" ry="5.4" transform="rotate(-15 736.6 264.4)"/><ellipse class="k" style="stroke-width:1.9" cx="737.2" cy="264.5" rx="2.6" ry="3.3" transform="rotate(-15 737.2 264.5)"/><ellipse class="k3" cx="737.8" cy="264.6" rx="1.2" ry="1.7"/><ellipse class="d" cx="747.6" cy="268.5" rx="1.2" ry="1.7"/></g>
<g><ellipse class="w" cx="691.7" cy="272.1" rx="4.3" ry="5.2" transform="rotate(-15 691.7 272.1)"/><ellipse class="k" style="stroke-width:1.9" cx="692.3" cy="272.2" rx="2.5" ry="3.2" transform="rotate(-15 692.3 272.2)"/><ellipse class="k3" cx="692.8" cy="272.3" rx="1.2" ry="1.7"/><ellipse class="d" cx="703" cy="276.6" rx="1.2" ry="1.6"/></g>
</g>
<!-- centre hitch -->
<g id="u-hitch">
<!-- lower socket bracket -->
<path class="w" d="M463.1 321.8C462.5 326 462.8 330 464 333.2C465 336.5 466.5 339 468.7 340.8C471 342.8 473.8 343.8 476.3 343.6C480 342.8 483 341 485.8 338.9L489 334L476 322Z"/>
<path class="k" d="M466 324C465.6 328 466 331.5 467 334C468 336.5 469.5 338.2 471.5 339C474 339.6 477 338.6 479.5 337C481.5 335.6 483.5 335.3 486 336.5"/>
<ellipse class="k" cx="473.5" cy="331.3" rx="2.2" ry="3.1" transform="rotate(-20 473.5 331.3)"/><circle class="d" cx="467" cy="338.5" r="1.2"/><circle class="d" cx="476.6" cy="343.8" r="1.2"/><path class="k" d="M463.5 321.5L464.5 316.5L467 316.5L468.4 328M478 336.5L482.5 333.5L488.5 338"/>
<!-- rear hook A -->
<path d="M472.2 269.6L477.5 268.8L477.1 283.6L486.8 283.6L487.6 286.7L493.3 294L494.1 300.5L492.5 305.4L483.5 306.5L479.9 304.6L477.5 303.7L476.2 297.2L470.6 289.1L468.9 279.4Z" fill="#fff" stroke="none"/>
<path class="k" d="M477.1 282V268.8L472.2 269.6C470.5 272.7 469.3 276 468.9 279.4C468.7 282.8 469.4 286.1 470.6 289.1C472 292 474.3 294.6 476.2 297.2C477 299.3 477.5 301.5 477.5 303.7M475 269.2C473.4 272.2 472.5 275.3 472.2 278.6C472 281.7 472.4 284.7 473.4 287.5C474.8 290.6 477.2 293.4 479.1 296.4C479.8 299 480.1 301.8 479.9 304.6M469.4 275.6L472.5 276M469.5 283.6L472.4 283M473.6 293.6L476 292M477.2 300.6L479.8 300.4M477.5 282.2L486.8 283.4"/>
<!-- bar + neck -->
<path class="w" d="M426.1 247L444.1 247.9L443.2 257.4C443.3 262 444 266.5 445.1 270.6C446.5 275.5 448.3 280 450.7 283.9C453.2 287.6 456 290.8 459.3 293.4L461.5 296.8L483.9 308.5L483.9 335.1L452.6 312.3C449 310.2 446 307.7 443.2 304.8C439.8 300.8 437 296.3 434.6 291.5C432 286.5 430.2 281.5 429 276.3C427.8 270.5 427.2 265 427.1 259.3Z"/>
<path class="k" d="M429 276.3C434 276.6 440 275.5 445.1 273.5M461.5 296.8C462.4 299.5 461.8 302.3 460.2 304.8C458.4 307.8 456 310.3 453.2 312.3M426.7 250.4C432 252 440 252.2 444.4 251.2"/>
<circle class="w" cx="436.9" cy="236.5" r="12.9"/>
<path class="w" d="M427 244.5C430 247.5 441 248.3 444.8 245.3L444.1 247.9C440 250 430 249.6 426.1 247Z"/>
<!-- hooks -->
<path d="M494.5 279.6L511.5 286.8L518.1 286.2L515.2 323.7C516.5 326 516.8 329 516.1 331.3C515 334 513.7 335.8 512.3 336.6C509.5 338.3 507 339.2 504.8 338.9C502.5 338 500.8 336 499.1 334.1C497 334.5 495 335.6 493.4 336C491 335.6 489 334.6 487.7 333.2C486 331.5 484.7 329.7 483.9 327.5C483 323.5 482.7 319.8 483 316.1C483.3 313 484.2 310.5 485.4 308.5L492.5 305.4L494.1 300.5L493.3 294L487.6 286.7L486 276.9L489.2 267.2L494.5 266.4Z" fill="#fff" stroke="none"/>
<path class="k" d="M494.5 279.6L511.5 286.8M518.1 286.6L515.2 323.7C516.5 326 516.8 329 516.1 331.3C515 334 513.7 335.8 512.3 336.6C509.5 338.3 507 339.2 504.8 338.9C502.5 338 500.8 336 499.1 334.1C497 334.5 495 335.6 493.4 336C491 335.6 489 334.6 487.7 333.2C486 331.5 484.7 329.7 483.9 327.5C483 323.5 482.7 319.8 483 316.1C483.3 313 484.2 310.5 485.4 308.5C487.5 307 490.5 306.4 492.5 305.4"/>
<path class="k" d="M494.9 306.2C492.5 307.4 489.5 308.2 487.6 309.6C486.4 311.6 485.6 314 485.3 316.5C485 320 485.4 323.5 486.2 326.5C487 328.8 488.2 330.5 489.7 331.8C491.2 332.9 492.8 333.3 494.5 333C496.5 332.3 498.2 331.2 500.2 331C502.2 332.5 503.7 334.5 505.7 335.5C507.7 335.6 509.7 334.6 511.7 333M483.2 318L485.4 318.2"/>
<path class="k" d="M494.5 279.6V266.4L489.2 267.2C487.6 270.3 486.4 273.6 486 276.9C485.8 280.3 486.4 283.6 487.6 286.7C489 289.5 491.3 291.7 493.3 294C494 296 494.3 298.3 494.1 300.5C493.8 302.3 493.3 304 492.5 305.4M492.1 266.8C490.5 270 489.3 273.2 488.8 276.5C488.6 279.8 489.3 283 490.5 285.9C491.8 288.6 493.8 290.9 495.7 293.2C496.6 295.5 497.1 298 497 300.5C496.7 302.6 496 304.5 494.9 306.2M486.5 273.6L489.4 274M486.5 281.6L489.3 281M490.4 290.6L492.9 288.8M494.2 299L497 298.8"/>
<!-- bolts -->
<g><ellipse class="w" cx="492.8" cy="318.3" rx="5.2" ry="6" transform="rotate(-15 492.8 318.3)"/><path d="M490.2 316L493 312.8L497.6 313.6L500.6 317.4L500 322L496.4 324.6L492 323.6L489.8 320Z" fill="#1a1a1a" stroke="#000" stroke-width="1.2" stroke-linejoin="round"/><ellipse cx="493.2" cy="318.6" rx="1.3" ry="2.6" fill="#fff" transform="rotate(-10 493.2 318.6)"/><path d="M498.6 315.6L499.2 320.6" stroke="#fff" stroke-width="1" fill="none"/></g>
<g><ellipse class="w" cx="509.8" cy="329.6" rx="4.8" ry="5.6" transform="rotate(-15 509.8 329.6)"/><path d="M507.6 327.4L510.2 324.6L514.4 325.4L516.8 328.8L516.2 333L513 335.2L509.2 334.4L507.2 331.2Z" fill="#1a1a1a" stroke="#000" stroke-width="1.2" stroke-linejoin="round"/><ellipse cx="510.2" cy="330" rx="1.2" ry="2.4" fill="#fff" transform="rotate(-10 510.2 330)"/><path d="M515 327.4L515.4 331.8" stroke="#fff" stroke-width="1" fill="none"/></g>
<ellipse class="k" cx="490.5" cy="328.4" rx="2.1" ry="2.9" transform="rotate(-15 490.5 328.4)"/>
</g>
</g>

<g id="lower-parts">
<g id="plateA">
<!-- arm -->
<path class="w" d="M278.5 548.3L365.1 574.7L351.6 590.3L282.6 564.5C277 563.4 273.3 559.5 273.2 555.5C273.3 551.5 275.5 548.5 278.5 548.3Z"/>
<path d="M278.5 548.3L365.1 574.7L364.4 576.2L280 550.4Z" fill="#000" stroke="#000" stroke-width="0.9" stroke-linejoin="round"/>
<ellipse cx="279.3" cy="557" rx="4.9" ry="6.4" transform="rotate(-15 279.3 557)" fill="#fff" stroke="#000" stroke-width="2.2"/>
<ellipse cx="279.6" cy="557.2" rx="2.6" ry="3.8" transform="rotate(-15 279.6 557.2)" fill="#444" stroke="#000" stroke-width="1.4"/>
<path class="k" d="M281.5 550.5C284.5 551.5 286 554 285.8 557.5"/>
<!-- X plate -->
<path transform="translate(-1.6,0.4)" class="w" d="M349.5 580.2C350 578 351 576.4 352.2 575.4C353.8 574 355.6 573.3 357.6 573.4C360.5 573.8 363 574.8 365.7 575.4C368.2 574.3 370.5 572.6 372.5 570.7C375.5 568.5 378.4 566.4 380.6 563.9C382.4 562 383.6 560 384.7 557.9C385.8 556 387.5 554.8 389.4 554.7C391.4 554.6 393.2 555.2 394.1 556.5C395.3 558.3 395.8 560.4 395.5 562.6C395 565 394.2 567.3 393.4 569.4L391.4 574.8L396 590L395.5 611.3C396 613 396 615 395.5 616.7C395 618.8 394.2 620.8 392.8 622.1C391.2 623 389.2 623.3 387.4 622.8C385.8 622.4 384.6 621.4 383.3 620.8C381 621.2 378.6 622.3 376.5 623.5C373.2 625.5 370 627.8 367.1 630.3C365.2 631.7 363.5 633.3 362.3 635L361.7 638.4C360.8 640.2 359.4 641.4 357.6 641.8C356 642.3 354.4 642.3 352.9 641.8C351.3 641.2 350.2 640 349.7 638.4C349.3 636.6 349.4 634.8 350.1 633C351 631 352.2 629.2 353.5 627.5C355 625.4 356.2 623.2 356.9 620.8C357.8 617.3 358.2 613.6 358.3 610V599.1C358 596.2 357 593.4 355.6 591C354.3 589.4 352.5 588.2 350.8 587C350 585.8 349.5 584.4 349.5 582.9Z"/>
<path class="w" d="M349.5 580.2C350 578 351 576.4 352.2 575.4C353.8 574 355.6 573.3 357.6 573.4C360.5 573.8 363 574.8 365.7 575.4C368.2 574.3 370.5 572.6 372.5 570.7C375.5 568.5 378.4 566.4 380.6 563.9C382.4 562 383.6 560 384.7 557.9C385.8 556 387.5 554.8 389.4 554.7C391.4 554.6 393.2 555.2 394.1 556.5C395.3 558.3 395.8 560.4 395.5 562.6C395 565 394.2 567.3 393.4 569.4L391.4 574.8L396 590L395.5 611.3C396 613 396 615 395.5 616.7C395 618.8 394.2 620.8 392.8 622.1C391.2 623 389.2 623.3 387.4 622.8C385.8 622.4 384.6 621.4 383.3 620.8C381 621.2 378.6 622.3 376.5 623.5C373.2 625.5 370 627.8 367.1 630.3C365.2 631.7 363.5 633.3 362.3 635L361.7 638.4C360.8 640.2 359.4 641.4 357.6 641.8C356 642.3 354.4 642.3 352.9 641.8C351.3 641.2 350.2 640 349.7 638.4C349.3 636.6 349.4 634.8 350.1 633C351 631 352.2 629.2 353.5 627.5C355 625.4 356.2 623.2 356.9 620.8C357.8 617.3 358.2 613.6 358.3 610V599.1C358 596.2 357 593.4 355.6 591C354.3 589.4 352.5 588.2 350.8 587C350 585.8 349.5 584.4 349.5 582.9Z"/>
<path class="k" d="M353.5 576C352.5 577.5 352 579.2 352 581C352 583 352.7 585 354 586.2C355.8 587.6 357.4 589.2 358.5 591.2C359.7 593.7 360.5 596.3 360.6 599.1V610C360.5 613.8 360 617.6 359 621C358.2 623.5 357 625.8 355.5 627.8C354.2 629.6 353 631.4 352.3 633.4C351.8 635 351.8 636.6 352.2 638M358.3 599.1L360.6 599.1M358.3 610L360.6 610M356.9 620.8L359 621.3M353.5 627.5L355.5 628.3M366.5 577.6C369.5 576.3 372 574.5 374.3 572.4C377.2 570 380 567.8 382.4 565.2C384.2 563.2 385.6 561 386.7 558.8"/>
<ellipse class="k" cx="357.3" cy="581.3" rx="1.9" ry="2.9" transform="rotate(15 357.3 581.3)"/>
<ellipse class="k" cx="390.3" cy="562.6" rx="1.9" ry="2.9" transform="rotate(15 390.3 562.6)"/>
<ellipse class="k" cx="390.7" cy="616" rx="1.9" ry="2.9" transform="rotate(15 390.7 616)"/>
<ellipse class="k" cx="357.3" cy="634.3" rx="1.9" ry="2.9" transform="rotate(15 357.3 634.3)"/>
<!-- gusset -->
<path class="w" d="M382.6 575L423.9 587C426 588 427.8 589.4 429.3 591C431 592.8 432.2 594.8 432.7 597.1C432.8 599.2 432 601 430.7 602.5C429.6 603.8 428.2 604.7 426.6 605.2L405 604.5C402 604.8 399.3 605.6 396.8 606.6C393.5 608 390.5 609.8 387.4 611.3C385.2 612.2 383 612.7 380.6 612.7Z"/>
<path class="k2" d="M382.6 575L423.9 587C426 588 427.8 589.4 429.3 591C431 592.8 432.2 594.8 432.7 597.1"/>
<path class="k" d="M384.5 577.6L384 610.8M381 612.6L384 610.8"/>
<ellipse class="k" cx="394.4" cy="589.7" rx="2.3" ry="3" transform="rotate(15 394.4 589.7)"/>
<ellipse class="k" cx="422.8" cy="596.7" rx="2.3" ry="3" transform="rotate(15 422.8 596.7)"/>
<path class="k3" d="M392.6 588.4L396.2 591M393 591.5L395.8 588M421 595.4L424.6 598M421.4 598.5L424.2 595"/>
</g>
<use href="#plateA" transform="translate(422,-203.8)"/>
<!-- beam B -->
<g id="beamB">
<!-- right end plate -->
<path class="w" d="M714.4 416.2C714.6 414.4 715.2 413 716 411.9C717.3 410.4 719.2 409.6 721.4 409.5L748.4 415.2C751.3 416 754 417.2 756 418.9C757.6 420.2 758.8 421.9 759.3 423.8C759.8 425.2 760 426.7 759.8 428.1C759.2 429.8 758 431.2 757.1 432.5C757.5 434.2 758.4 435.8 759.3 437.3L761.4 441.7L724.1 447C724.2 444 724 441.5 723.5 439C722.8 436 721.9 433 720.8 430.3C719.3 427.6 717.5 425.2 716 422.7C715 420.5 714.5 418.4 714.4 416.2Z"/>
<path class="k" d="M721.4 409.5L723.4 409.2L750 414.8C753 415.7 755.6 417 757.7 418.6C759.5 420.2 760.8 422 761.3 424C761.8 425.5 762 427 761.8 428.5C761.2 430.2 760 431.5 759.1 432.8C759.6 434.5 760.5 436 761.3 437.5L762.8 441"/>
<ellipse class="k" cx="721.6" cy="418.6" rx="2.4" ry="3.1" transform="rotate(15 721.6 418.6)"/>
<ellipse class="k" cx="750.4" cy="425.8" rx="2.4" ry="3.1" transform="rotate(15 750.4 425.8)"/>
<path class="k3" d="M719.8 417.3L723.4 419.9M720.2 420.4L723 416.9M748.6 424.5L752.2 427.1M749 427.6L751.8 424.1"/>
<path d="M749.5 468L760.5 461.9C761.3 462.6 761.4 463.6 761 464.6L753 469.4C751.5 469.6 750.2 469 749.5 468Z" fill="#111" stroke="#000" stroke-width="0.8"/>
<!-- tube -->
<path d="M453.7 596.8L459.1 593.9L480.7 580.6L739.2 438.7L765.8 441.7Q768 442.3 768 444.5V457.4L765.8 459.5L478 618.5L453.7 613.7Z" fill="#fff" stroke="none"/>
<path class="k2" d="M480.7 580.6L739.2 438.7L765.8 441.7Q768 442.3 768 444.5V457.4M478.3 618.4L766 459.3"/>
<path class="k" d="M480.7 599.5L760.3 443.3M478 603.6L764.7 444.4M739.2 438.7L760.3 443.3L764.7 444.4L768 444.6"/>
<!-- left end plate (behind tube) -->
<path class="w" d="M434.7 571.8C434.8 569.7 435.3 567.8 436.1 566.4C437.6 564.6 439.7 563.7 442.2 563.7L473.3 571.8C475.2 572.4 476.8 573.3 478 574.5C479.4 576 480.2 577.9 480.3 579.9C480.2 581.9 479.6 583.7 478.7 585.3L477.4 588.7C478.6 590.2 479.8 591.8 480.7 593.4L481.2 596.8L478 619L477.4 619.8C475.3 620.8 473 621.5 470.6 621.9C467 622.5 463.3 622.7 459.8 622.5C457 622 454.2 621.2 451.7 619.8C449 617.6 447 614.8 445.6 611.7C444.5 608.2 443.9 604.5 443.5 600.9C443 596.8 442.4 592.6 441.5 588.7C440.3 585.3 438.4 582.3 436.8 579.2C435.6 576.8 434.8 574.3 434.7 571.8Z"/>
<path class="k" d="M442.2 563.7L444.2 563.3L474.8 571.2C476.8 571.9 478.5 572.8 479.8 574C481.3 575.6 482.2 577.5 482.3 579.6C482.2 581.6 481.6 583.4 480.7 585L479.4 588.3C480.6 589.8 481.6 591.3 482.4 592.8"/>
<ellipse class="k" cx="441.9" cy="573.2" rx="2.4" ry="3.1" transform="rotate(15 441.9 573.2)"/>
<ellipse class="k" cx="470.9" cy="580.3" rx="2.4" ry="3.1" transform="rotate(15 470.9 580.3)"/>
<path class="k3" d="M440.1 571.9L443.7 574.5M440.5 575L443.3 571.5M469.1 579L472.7 581.6M469.5 582.1L472.3 578.6"/>
<path class="w" d="M453.7 597.5L459.1 593.9L480.7 599.5L477.6 601.8Z"/>
<path class="w" d="M455.5 596.9L476 601.3Q478 601.8 478 603.8V616.5Q477.8 618.6 475.8 618.2L455.3 613.8Q453.7 613.3 453.7 611.6V598.6Q453.8 596.7 455.5 596.9Z" style="stroke-width:1.6"/>
<path class="k" d="M457.6 599.8L474.2 603.4Q475.4 603.7 475.4 605V615Q475.2 616.3 474 616L457.4 612.6Q456.3 612.3 456.3 611.2V601Q456.4 599.6 457.6 599.8Z"/>
<path class="k2" d="M456.6 612.4L474.6 603.6"/>
<path class="k" d="M457 609.8L470 603"/>
</g>
</g>

<g id="lower-hitch">
<!-- socket plate -->
<path class="w" d="M577.5 566C574 566.3 570.5 567.5 567.7 569.3C564.5 571.7 561.8 574.8 559.6 578.2L558 582.3C558.6 582.8 559.4 582.6 560.2 582C561.6 580.6 563 579.4 564.5 579C566 577 567.6 575.3 569.4 574.2C570.5 573.8 571.4 574 571.8 575C572.5 577 572.4 579.4 571.8 581.5C570.9 584 569.4 586.2 567.7 588C566.2 589.4 564.6 590.6 562.9 591.2C561.4 591.6 560 591 558.8 590.4C557.5 589.7 556.4 589.4 555.6 589.6C554.6 591.6 554.2 594 554.7 596.1C555.5 598 557 598.8 558.8 598.5C561.4 597.8 563.9 596.3 566.1 594.5C568.4 592.5 570.6 590.2 572.6 588L577.5 583.9Z"/>
<path class="k2" d="M577.5 566C574 566.3 570.5 567.5 567.7 569.3C564.5 571.7 561.8 574.8 559.6 578.2L558 582.3M571.8 575C572.5 577 572.4 579.4 571.8 581.5C570.9 584 569.4 586.2 567.7 588C566.2 589.4 564.6 590.6 562.9 591.2C561.4 591.6 560 591 558.8 590.4C557.5 589.7 556.4 589.4 555.6 589.6C554.6 591.6 554.2 594 554.7 596.1"/>
<circle class="d" cx="566" cy="573" r="0.9"/><circle class="d" cx="573.6" cy="572.4" r="0.9"/><circle class="d" cx="561" cy="581.2" r="0.9"/><circle class="d" cx="571.2" cy="584" r="0.9"/><circle class="d" cx="558" cy="592.8" r="0.9"/><circle class="d" cx="565" cy="592.6" r="0.9"/>
<!-- rear hook -->
<path d="M621.3 540.9L621.7 531.1C622.4 529 623.3 527.8 624.6 527.5C626.2 527.6 627.2 528.6 627.8 530.3C628.8 532.6 629.4 535 629.5 537.6C629.6 540.6 629 543.3 627.8 545.7C626 548 623.8 549.6 621.3 550.6C619.2 551.8 617.5 553.4 616.5 555.5C616.4 558 617 560.2 618.1 562C619.5 564 621.2 565.6 623 566.8L627.8 569.3L628.6 571.4L618 572L612 558L617 548Z" fill="#fff"/>
<path class="k" d="M621.3 540.9L621.7 531.1C622.4 529 623.3 527.8 624.6 527.5C626.2 527.6 627.2 528.6 627.8 530.3C628.8 532.6 629.4 535 629.5 537.6C629.6 540.6 629 543.3 627.8 545.7C626 548 623.8 549.6 621.3 550.6C619.2 551.8 617.5 553.4 616.5 555.5C616.4 558 617 560.2 618.1 562C619.5 564 621.2 565.6 623 566.8L627.8 569.3L628.6 571.4M623 529C624.5 530.2 625.5 532.6 626.2 535.5C626.8 538.5 626.6 541.5 625.5 544C624 546.3 621.8 547.8 619.5 549C617 550.3 615 552.3 613.8 554.8C613.6 557.8 614.3 560.5 615.6 562.8C617.2 565.3 619.3 567.3 621.5 568.8L624.6 571.4M626.3 535.6L629.3 535M624.8 545L627.2 546.6"/>
<!-- bar + neck -->
<path class="w" d="M609.2 571.4L657.1 571.4C660 570.6 662.5 568.5 664 566C665 563.8 665.3 563 665.2 563.6C666.5 559.5 668 555 669.2 550.6V546.5L684.7 546.5L685 550.6C685.3 554.5 684.8 558.5 683.9 562C683 566.5 681.6 571 679.8 575C677.8 579 675 582.3 671.7 584.7C668 587.6 663.5 589.6 658.7 590.4C655.4 590.8 652 590.4 648.9 589.6L618.1 589.6Z"/>
<path class="k" d="M657.1 571.4C654 571.6 651 572.2 648.9 573.3C647 575 645.9 577.3 645.7 579.8C645.6 583.5 646.8 587 648.9 589.6M669.2 550.6C667.6 555 666.2 559.4 665.2 563.6C664.8 567 665 570.5 666 573.3C667.8 576 670.4 577.7 673.3 578.2C675.8 578.2 678 577 679.8 575M669.2 550.6C673 552.8 681 552.8 685 550.6"/>
<path class="w" d="M669.2 547.2C665.6 544.6 664.3 540.5 664.3 536C664.3 529 670 523.3 677 523.3C684 523.3 689.7 529 689.7 536C689.7 540.5 688 544.8 684.7 547.2C681 549 672.5 549 669.2 547.2Z"/>
<ellipse class="k" cx="676.6" cy="526" rx="4.4" ry="2.1"/>
<path class="k" d="M620 589.6C620.5 592 622.5 593 625.5 592.8C627 592.4 627.6 591 627.5 589.6"/>
<!-- front plate + hook -->
<path d="M608.3 547.4L608.7 539.2C609.4 537 610.4 535.6 611.6 535.2C613 535.2 614 535.8 614.8 536.8C615.8 538.5 616.4 540.4 616.5 542.5C616.8 546 616.6 549.2 615.6 552.2C614.2 554.8 612.3 557 610 558.7C608 560 606 561 604.3 562C603.2 563.4 602.6 565 602.7 566.8C603.6 569 605 571 606.7 572.5C608.6 573.7 610.8 574.4 613.2 575C614.8 576.8 615.9 579 616.5 581.5C616.8 583.6 616.8 585.8 616.5 588C616.2 590.8 615.6 593.5 614.8 596.1C613.6 598.2 612 599.9 610 601C608.4 600.6 607 599.6 605.9 598.5C604.4 596.2 603 593.7 601.8 591.2L588.9 590.4L592 580L600 566L606 556Z" fill="#fff"/>
<path class="k" d="M608.3 547.4L608.7 539.2C609.4 537 610.4 535.6 611.6 535.2C613 535.2 614 535.8 614.8 536.8C615.8 538.5 616.4 540.4 616.5 542.5C616.8 546 616.6 549.2 615.6 552.2C614.2 554.8 612.3 557 610 558.7C608 560 606 561 604.3 562C603.2 563.4 602.6 565 602.7 566.8C603.6 569 605 571 606.7 572.5C608.6 573.7 610.8 574.4 613.2 575C614.8 576.8 615.9 579 616.5 581.5C616.8 583.6 616.8 585.8 616.5 588C616.2 590.8 615.6 593.5 614.8 596.1C613.6 598.2 612 599.9 610 601C608.4 600.6 607 599.6 605.9 598.5C604.4 596.2 603 593.7 601.8 591.2L588.9 590.4"/>
<path class="k" d="M610.2 536.6C611.8 537.6 612.8 539.6 613.3 542C613.8 545.3 613.6 548.3 612.8 551C611.5 553.5 609.8 555.6 607.7 557.2C605.6 558.5 603.6 559.6 601.9 560.7C600.6 562.4 600 564.3 600.2 566.4C601.2 569 602.8 571.4 604.8 573.2C606.5 574.6 608.6 575.6 610.8 576.5C612.4 578 613.4 580 614 582.2C614.3 584.2 614.3 586.3 614 588.3C613.6 590.8 613 593.4 612.2 595.8C611.6 597.4 610.8 598.6 609.8 599.6M613.4 544L616.5 543.7M611 575.7L612.8 573.6M614.2 588L616.6 588.2"/>
<ellipse class="k" cx="607.5" cy="594.8" rx="1.9" ry="2.6" transform="rotate(-20 607.5 594.8)"/>
<!-- bolt 2 -->
<ellipse class="w" cx="603.2" cy="586" rx="3.6" ry="4.2"/>
<path class="k" d="M601 582.6L603.6 581.2L606.8 583L607 586.6M603 584.2L606 583.4"/>
<ellipse class="k" cx="602.5" cy="586.6" rx="2.5" ry="3.2"/>
<!-- loop strap -->
<path class="w2" d="M578.3 566L585.6 565.2C588 566.6 590 568.8 591.3 571.7C592.2 574.3 592.5 577 592.1 579.8C591.5 582.8 590.4 585.6 588.9 588C587.5 589.6 585.8 590.7 584 591.2L576 586Z" style="stroke-width:1.7"/>
<path class="k" d="M582.7 579L583.2 570.1C584 568.6 585.3 568 586.6 568.4C588 569.3 588.8 570.8 588.9 572.5L588.5 579.8" style="stroke-width:1.6"/>
<path class="w" d="M577.5 566L576 584.5L579.5 583.5L580.5 566Z"/>
<ellipse class="w" cx="581.8" cy="585" rx="3.3" ry="4" />
<path class="k" d="M580 581.4L583 580.4L586 582.6L586.2 586.2L584 588.6"/>
<!-- leaders -->
<path class="l" d="M584 589.6L609.2 611.5M605.9 597.7L607.5 609"/>
<path class="l" d="M692.5 386.3L743 368"/><circle class="d" cx="743" cy="368" r="1.2"/>
<path class="l" d="M412 546.2L408.3 589.5"/><circle class="d" cx="408.3" cy="589.7" r="1.2"/>
<path class="l" d="M573.8 515L588.8 529.2"/><circle class="d" cx="588.8" cy="529.2" r="1.2"/>
</g>

<g id="lower">
<g id="axes">
<path class="l" d="M390.3 562.6L563.4 605.1"/>
<path class="l" d="M357.3 581.3L530.2 623.2"/>
<path class="l" d="M390.7 616.0L563.5 657.9"/>
<path class="l" d="M357.3 634.3L530.3 675.9"/>
<path class="l" d="M812.6 359.6L920.3 385.2"/>
<path class="l" d="M779.0 377.4L886.5 403.9"/>
<path class="l" d="M812.7 412.2L920.3 438.4"/>
<path class="l" d="M779.0 430.4L886.5 456.9"/>
<path class="l" d="M286.3 627.8L486.8 557.6"/>
<path class="l" d="M315.3 634.6L510.0 566.4"/>
<path class="l" d="M685.0 432.0L903.8 355.0"/>
<path class="l" d="M714.0 439.2L932.5 362.5"/>
<path class="l" d="M297.5 550.3L356.0 530.6"/>
<path class="l" d="M720.0 346.8L784.0 325.0"/>
</g>

<g id="hardware">
<ellipse cx="547.4" cy="601.2" rx="3.7" ry="5.9" transform="rotate(10 547.4 601.2)" fill="#fff" stroke="#000" stroke-width="1.9"/>
<ellipse class="k" cx="547.6" cy="601.2" rx="1.5" ry="2.9" transform="rotate(10 547.4 601.2)"/>
<ellipse cx="514.2" cy="619.3" rx="3.7" ry="5.9" transform="rotate(10 514.2 619.3)" fill="#fff" stroke="#000" stroke-width="1.9"/>
<ellipse class="k" cx="514.4" cy="619.3" rx="1.5" ry="2.9" transform="rotate(10 514.2 619.3)"/>
<ellipse cx="547.5" cy="654.0" rx="3.7" ry="5.9" transform="rotate(10 547.5 654.0)" fill="#fff" stroke="#000" stroke-width="1.9"/>
<ellipse class="k" cx="547.7" cy="654.0" rx="1.5" ry="2.9" transform="rotate(10 547.5 654.0)"/>
<ellipse cx="514.3" cy="672.0" rx="3.7" ry="5.9" transform="rotate(10 514.3 672.0)" fill="#fff" stroke="#000" stroke-width="1.9"/>
<ellipse class="k" cx="514.5" cy="672.0" rx="1.5" ry="2.9" transform="rotate(10 514.3 672.0)"/>
<ellipse cx="904.3" cy="381.3" rx="3.7" ry="5.9" transform="rotate(10 904.3 381.3)" fill="#fff" stroke="#000" stroke-width="1.9"/>
<ellipse class="k" cx="904.5" cy="381.3" rx="1.5" ry="2.9" transform="rotate(10 904.3 381.3)"/>
<ellipse cx="870.5" cy="400.0" rx="3.7" ry="5.9" transform="rotate(10 870.5 400.0)" fill="#fff" stroke="#000" stroke-width="1.9"/>
<ellipse class="k" cx="870.7" cy="400.0" rx="1.5" ry="2.9" transform="rotate(10 870.5 400.0)"/>
<ellipse cx="904.3" cy="434.5" rx="3.7" ry="5.9" transform="rotate(10 904.3 434.5)" fill="#fff" stroke="#000" stroke-width="1.9"/>
<ellipse class="k" cx="904.5" cy="434.5" rx="1.5" ry="2.9" transform="rotate(10 904.3 434.5)"/>
<ellipse cx="870.5" cy="453.0" rx="3.7" ry="5.9" transform="rotate(10 870.5 453.0)" fill="#fff" stroke="#000" stroke-width="1.9"/>
<ellipse class="k" cx="870.7" cy="453.0" rx="1.5" ry="2.9" transform="rotate(10 870.5 453.0)"/>
<path class="w" d="M562.3 607.0L576.1 610.5L577.1 606.7L563.3 603.2Z"/>
<path d="M562.3 607.0L561.2 604.8L563.3 603.2L564.3 605.5Z" fill="#000" stroke="#000" stroke-width="0.8"/>
<ellipse cx="576.6" cy="608.6" rx="3.2" ry="6" transform="rotate(10 576.6 608.6)" fill="#fff" stroke="#000" stroke-width="1.7"/>
<ellipse cx="579.2" cy="608.9" rx="3" ry="3.9" transform="rotate(10 579.2 608.9)" fill="#fff" stroke="#000" stroke-width="1.5"/>
<path class="k" d="M577.6 606.7L580.0 607.7L580.1 610.5L578.0 611.5M580.0 607.7L582.0 607.4"/>
<path class="w" d="M529.1 625.1L542.9 628.6L543.9 624.8L530.1 621.3Z"/>
<path d="M529.1 625.1L528.0 622.9L530.1 621.3L531.1 623.6Z" fill="#000" stroke="#000" stroke-width="0.8"/>
<ellipse cx="543.4" cy="626.7" rx="3.2" ry="6" transform="rotate(10 543.4 626.7)" fill="#fff" stroke="#000" stroke-width="1.7"/>
<ellipse cx="546.0" cy="627.0" rx="3" ry="3.9" transform="rotate(10 546.0 627.0)" fill="#fff" stroke="#000" stroke-width="1.5"/>
<path class="k" d="M544.4 624.8L546.8 625.8L546.9 628.6L544.8 629.6M546.8 625.8L548.8 625.5"/>
<path class="w" d="M562.4 659.8L576.2 663.3L577.2 659.5L563.4 656.0Z"/>
<path d="M562.4 659.8L561.3 657.6L563.4 656.0L564.4 658.3Z" fill="#000" stroke="#000" stroke-width="0.8"/>
<ellipse cx="576.7" cy="661.4" rx="3.2" ry="6" transform="rotate(10 576.7 661.4)" fill="#fff" stroke="#000" stroke-width="1.7"/>
<ellipse cx="579.3" cy="661.7" rx="3" ry="3.9" transform="rotate(10 579.3 661.7)" fill="#fff" stroke="#000" stroke-width="1.5"/>
<path class="k" d="M577.7 659.5L580.1 660.5L580.2 663.3L578.1 664.3M580.1 660.5L582.1 660.2"/>
<path class="w" d="M529.2 677.8L543.0 681.3L544.0 677.5L530.2 674.0Z"/>
<path d="M529.2 677.8L528.1 675.6L530.2 674.0L531.2 676.3Z" fill="#000" stroke="#000" stroke-width="0.8"/>
<ellipse cx="543.5" cy="679.4" rx="3.2" ry="6" transform="rotate(10 543.5 679.4)" fill="#fff" stroke="#000" stroke-width="1.7"/>
<ellipse cx="546.1" cy="679.7" rx="3" ry="3.9" transform="rotate(10 546.1 679.7)" fill="#fff" stroke="#000" stroke-width="1.5"/>
<path class="k" d="M544.5 677.5L546.9 678.5L547.0 681.3L544.9 682.3M546.9 678.5L548.9 678.2"/>
<path class="w" d="M919.2 387.1L933.0 390.6L934.0 386.8L920.2 383.3Z"/>
<path d="M919.2 387.1L918.1 384.9L920.2 383.3L921.2 385.6Z" fill="#000" stroke="#000" stroke-width="0.8"/>
<ellipse cx="933.5" cy="388.7" rx="3.2" ry="6" transform="rotate(10 933.5 388.7)" fill="#fff" stroke="#000" stroke-width="1.7"/>
<ellipse cx="936.1" cy="389.0" rx="3" ry="3.9" transform="rotate(10 936.1 389.0)" fill="#fff" stroke="#000" stroke-width="1.5"/>
<path class="k" d="M934.5 386.8L936.9 387.8L937.0 390.6L934.9 391.6M936.9 387.8L938.9 387.5"/>
<path class="w" d="M885.4 405.8L899.2 409.3L900.2 405.5L886.4 402.0Z"/>
<path d="M885.4 405.8L884.3 403.6L886.4 402.0L887.4 404.3Z" fill="#000" stroke="#000" stroke-width="0.8"/>
<ellipse cx="899.7" cy="407.4" rx="3.2" ry="6" transform="rotate(10 899.7 407.4)" fill="#fff" stroke="#000" stroke-width="1.7"/>
<ellipse cx="902.3" cy="407.7" rx="3" ry="3.9" transform="rotate(10 902.3 407.7)" fill="#fff" stroke="#000" stroke-width="1.5"/>
<path class="k" d="M900.7 405.5L903.1 406.5L903.2 409.3L901.1 410.3M903.1 406.5L905.1 406.2"/>
<path class="w" d="M919.2 440.3L933.0 443.8L934.0 440.0L920.2 436.5Z"/>
<path d="M919.2 440.3L918.1 438.1L920.2 436.5L921.2 438.8Z" fill="#000" stroke="#000" stroke-width="0.8"/>
<ellipse cx="933.5" cy="441.9" rx="3.2" ry="6" transform="rotate(10 933.5 441.9)" fill="#fff" stroke="#000" stroke-width="1.7"/>
<ellipse cx="936.1" cy="442.2" rx="3" ry="3.9" transform="rotate(10 936.1 442.2)" fill="#fff" stroke="#000" stroke-width="1.5"/>
<path class="k" d="M934.5 440.0L936.9 441.0L937.0 443.8L934.9 444.8M936.9 441.0L938.9 440.7"/>
<path class="w" d="M885.4 458.8L899.2 462.3L900.2 458.5L886.4 455.0Z"/>
<path d="M885.4 458.8L884.3 456.6L886.4 455.0L887.4 457.3Z" fill="#000" stroke="#000" stroke-width="0.8"/>
<ellipse cx="899.7" cy="460.4" rx="3.2" ry="6" transform="rotate(10 899.7 460.4)" fill="#fff" stroke="#000" stroke-width="1.7"/>
<ellipse cx="902.3" cy="460.7" rx="3" ry="3.9" transform="rotate(10 902.3 460.7)" fill="#fff" stroke="#000" stroke-width="1.5"/>
<path class="k" d="M900.7 458.5L903.1 459.5L903.2 462.3L901.1 463.3M903.1 459.5L905.1 459.2"/>
<path class="l" d="M582.6 609.5L616.3 666.5"/>
<path class="l" d="M549.4 627.6L616.3 666.5"/>
<path class="l" d="M582.7 662.3L616.3 666.5"/>
<path class="l" d="M549.5 680.3L616.3 666.5"/>
<path class="l" d="M939.5 389.6L921.0 485.5"/>
<path class="l" d="M905.7 408.3L921.0 485.5"/>
<path class="l" d="M939.5 442.8L921.0 485.5"/>
<path class="l" d="M905.7 461.3L921.0 485.5"/>
<path d="M280.7 626.3L284.1 622.2L289.5 623.2L292.1 627.4L290.9 631.8L285.7 633.7L281.3 631.4Z" fill="#111" stroke="#000" stroke-width="1.2" stroke-linejoin="round"/>
<path d="M284.1 623.2L288.9 624.2L290.7 627.6" fill="none" stroke="#bbb" stroke-width="0.8"/>
<ellipse cx="285.1" cy="628.4" rx="1.5" ry="2" fill="none" stroke="#999" stroke-width="0.7"/>
<ellipse cx="307.3" cy="620.1" rx="5.2" ry="6.1" transform="rotate(15 307.3 620.1)" fill="#fff" stroke="#000" stroke-width="1.8"/>
<ellipse cx="307.3" cy="620.1" rx="2.8" ry="3.4" transform="rotate(15 307.3 620.1)" fill="#fff" stroke="#000" stroke-width="1.5"/>
<path class="k3" d="M306.1 619.7L308.7 619.5"/>
<path d="M309.7 633.1L313.1 629.0L318.5 630.0L321.1 634.2L319.9 638.6L314.7 640.5L310.3 638.2Z" fill="#111" stroke="#000" stroke-width="1.2" stroke-linejoin="round"/>
<path d="M313.1 630.0L317.9 631.0L319.7 634.4" fill="none" stroke="#bbb" stroke-width="0.8"/>
<ellipse cx="314.1" cy="635.2" rx="1.5" ry="2" fill="none" stroke="#999" stroke-width="0.7"/>
<ellipse cx="335.9" cy="627.3" rx="5.2" ry="6.1" transform="rotate(15 335.9 627.3)" fill="#fff" stroke="#000" stroke-width="1.8"/>
<ellipse cx="335.9" cy="627.3" rx="2.8" ry="3.4" transform="rotate(15 335.9 627.3)" fill="#fff" stroke="#000" stroke-width="1.5"/>
<path class="k3" d="M334.7 626.9L337.3 626.7"/>
<ellipse cx="886.3" cy="361.3" rx="5.2" ry="6.1" transform="rotate(15 886.3 361.3)" fill="#fff" stroke="#000" stroke-width="1.8"/>
<ellipse cx="886.3" cy="361.3" rx="2.8" ry="3.4" transform="rotate(15 886.3 361.3)" fill="#fff" stroke="#000" stroke-width="1.5"/>
<path class="k3" d="M885.1 360.9L887.7 360.7"/>
<path d="M898.2 353.5L901.6 349.4L907.0 350.4L909.6 354.6L908.4 359.0L903.2 360.9L898.8 358.6Z" fill="#111" stroke="#000" stroke-width="1.2" stroke-linejoin="round"/>
<path d="M901.6 350.4L906.4 351.4L908.2 354.8" fill="none" stroke="#bbb" stroke-width="0.8"/>
<ellipse cx="902.6" cy="355.6" rx="1.5" ry="2" fill="none" stroke="#999" stroke-width="0.7"/>
<ellipse cx="915.0" cy="368.3" rx="5.2" ry="6.1" transform="rotate(15 915.0 368.3)" fill="#fff" stroke="#000" stroke-width="1.8"/>
<ellipse cx="915.0" cy="368.3" rx="2.8" ry="3.4" transform="rotate(15 915.0 368.3)" fill="#fff" stroke="#000" stroke-width="1.5"/>
<path class="k3" d="M913.8 367.9L916.4 367.7"/>
<path d="M926.9 361.0L930.3 356.9L935.7 357.9L938.3 362.1L937.1 366.5L931.9 368.4L927.5 366.1Z" fill="#111" stroke="#000" stroke-width="1.2" stroke-linejoin="round"/>
<path d="M930.3 357.9L935.1 358.9L936.9 362.3" fill="none" stroke="#bbb" stroke-width="0.8"/>
<ellipse cx="931.3" cy="363.1" rx="1.5" ry="2" fill="none" stroke="#999" stroke-width="0.7"/>
<ellipse class="w" cx="321.6" cy="543.2" rx="9.7" ry="11" transform="rotate(15 321.6 543.2)"/>
<ellipse class="k" cx="321.0" cy="543.4" rx="2.2" ry="3" transform="rotate(15 321.6 543.2)"/>
<ellipse cx="342.4" cy="535.9" rx="5.2" ry="6.1" transform="rotate(15 342.4 535.9)" fill="#fff" stroke="#000" stroke-width="1.8"/>
<ellipse cx="342.4" cy="535.9" rx="2.8" ry="3.4" transform="rotate(15 342.4 535.9)" fill="#fff" stroke="#000" stroke-width="1.5"/>
<path class="k3" d="M341.2 535.5L343.8 535.3"/>
<path class="w" d="M356.8 533.8L365.9 530.4L364.1 525.5L355.0 529.0Z"/>
<ellipse cx="355.9" cy="531.4" rx="1.8" ry="2.7" transform="rotate(-12 355.9 531.4)" fill="#fff" stroke="#000" stroke-width="1.8"/>
<path d="M363.0 523.8L368.3 521.4L372.4 524.7L372.7 529.3L369.5 531.4L366.5 532.0L365.1 527.9Z" fill="#fff" stroke="#000" stroke-width="1.6" stroke-linejoin="round"/>
<path class="k" d="M367.7 521.8L369.1 526.1L368.9 531.3M369.1 526.1L372.3 525.1M364.3 524.3L365.7 528.1L366.5 531.7"/>
<ellipse class="w" cx="747.2" cy="337.8" rx="9.7" ry="11" transform="rotate(15 747.2 337.8)"/>
<ellipse class="k" cx="746.6" cy="338.0" rx="2.2" ry="3" transform="rotate(15 747.2 337.8)"/>
<ellipse cx="770.0" cy="329.6" rx="5.2" ry="6.1" transform="rotate(15 770.0 329.6)" fill="#fff" stroke="#000" stroke-width="1.8"/>
<ellipse cx="770.0" cy="329.6" rx="2.8" ry="3.4" transform="rotate(15 770.0 329.6)" fill="#fff" stroke="#000" stroke-width="1.5"/>
<path class="k3" d="M768.8 329.2L771.4 329.0"/>
<path class="w" d="M786.0 326.8L794.1 324.1L792.5 319.1L784.4 321.8Z"/>
<ellipse cx="785.2" cy="324.3" rx="1.8" ry="2.7" transform="rotate(-12 785.2 324.3)" fill="#fff" stroke="#000" stroke-width="1.8"/>
<path d="M791.3 317.6L796.6 315.2L800.7 318.5L801.0 323.1L797.8 325.2L794.8 325.8L793.4 321.7Z" fill="#fff" stroke="#000" stroke-width="1.6" stroke-linejoin="round"/>
<path class="k" d="M796.0 315.6L797.4 319.9L797.2 325.1M797.4 319.9L800.6 318.9M792.6 318.1L794.0 321.9L794.8 325.5"/>
<path class="w" d="M480.7 562.8L489.0 559.8L487.2 554.9L478.9 557.8Z"/>
<ellipse cx="479.8" cy="560.3" rx="1.8" ry="2.7" transform="rotate(-12 479.8 560.3)" fill="#fff" stroke="#000" stroke-width="1.8"/>
<path d="M486.1 553.3L491.4 550.9L495.5 554.2L495.8 558.8L492.6 560.9L489.6 561.5L488.2 557.4Z" fill="#fff" stroke="#000" stroke-width="1.6" stroke-linejoin="round"/>
<path class="k" d="M490.8 551.3L492.2 555.6L492.0 560.8M492.2 555.6L495.4 554.6M487.4 553.8L488.8 557.6L489.6 561.2"/>
<path class="w" d="M510.1 569.5L517.8 566.7L516.0 561.8L508.3 564.7Z"/>
<ellipse cx="509.2" cy="567.1" rx="1.8" ry="2.7" transform="rotate(-12 509.2 567.1)" fill="#fff" stroke="#000" stroke-width="1.8"/>
<path d="M514.9 560.1L520.2 557.7L524.3 561.0L524.6 565.6L521.4 567.7L518.4 568.3L517.0 564.2Z" fill="#fff" stroke="#000" stroke-width="1.6" stroke-linejoin="round"/>
<path class="k" d="M519.6 558.1L521.0 562.4L520.8 567.6M521.0 562.4L524.2 561.4M516.2 560.6L517.6 564.4L518.4 568.0"/>
<path class="w" d="M671.6 439.2L684.6 435.5Q686.4 432.0 683.0 429.9L670.0 433.6Z"/>
<path d="M670.3 431.0L675.4 431.4L677.2 434.8L677.0 438.8L675.0 441.2L671.6 441.6Z" fill="#fff" stroke="#000" stroke-width="1.5" stroke-linejoin="round"/>
<path class="k" d="M673.8 431.8L675.2 435.6L674.4 440.8M675.8 432.2L676.4 436.0L675.8 439.8"/>
<ellipse cx="670.8" cy="436.4" rx="3.5" ry="5.1" transform="rotate(-12 670.8 436.4)" fill="#fff" stroke="#000" stroke-width="1.7"/>
<circle class="d" cx="670.0" cy="437.0" r="0.7"/>
<path class="w" d="M700.1 446.5L713.3 442.5Q715.0 439.0 711.6 437.0L698.5 440.9Z"/>
<path d="M698.8 438.3L703.9 438.7L705.7 442.1L705.5 446.1L703.5 448.5L700.1 448.9Z" fill="#fff" stroke="#000" stroke-width="1.5" stroke-linejoin="round"/>
<path class="k" d="M702.3 439.1L703.7 442.9L702.9 448.1M704.3 439.5L704.9 443.3L704.3 447.1"/>
<ellipse cx="699.3" cy="443.7" rx="3.5" ry="5.1" transform="rotate(-12 699.3 443.7)" fill="#fff" stroke="#000" stroke-width="1.7"/>
<circle class="d" cx="698.5" cy="444.3" r="0.7"/>
<path class="l" d="M364.5 505.0L368.6 522.5"/>
<path class="l" d="M801.5 318.4L828.8 315.5"/>
<path class="l" d="M493.6 551.5L503.5 527.5L516.6 558"/>
<path class="l" d="M668.8 441.4L665.6 455.7L695.4 445.2"/>
</g>
</g>

<g id="labels">
<text class="t" x="118.8" y="63" textLength="76.2" lengthAdjust="spacingAndGlyphs">M12x35 - 6ks</text>
<text class="t" x="118.8" y="77.8" textLength="98.2" lengthAdjust="spacingAndGlyphs">M12x70 - 2ks (A)</text>
<text class="t" x="118.8" y="92.6" textLength="91.2" lengthAdjust="spacingAndGlyphs">M12x90 - 2ks (I)</text>
<text class="t" x="118.8" y="107.4" textLength="98.2" lengthAdjust="spacingAndGlyphs">M12x19 - 3ks (C)</text>
<text class="t" x="118.8" y="122.2" textLength="97.7" lengthAdjust="spacingAndGlyphs">M12x21 - 1ks (C)</text>
<text class="t" x="295.5" y="85" textLength="89.5" lengthAdjust="spacingAndGlyphs">M12 - 6ks (A, I)</text>
<text class="t" x="295.5" y="100" textLength="80.0" lengthAdjust="spacingAndGlyphs">M12 - 4ks (C)</text>
<text class="t" x="472.5" y="85" textLength="100.8" lengthAdjust="spacingAndGlyphs">PP12 - 16ks (A, I)</text>
<text class="t" x="472.5" y="100" textLength="91.5" lengthAdjust="spacingAndGlyphs">PP12 - 18ks (C)</text>
<text class="t" x="672" y="95.7" textLength="52.5" lengthAdjust="spacingAndGlyphs">P12 - 2ks</text>
<rect class="b" x="859.2" y="70.8" width="86.6" height="33.8"/>
<text class="t" x="864.8" y="85.2" textLength="77.5" lengthAdjust="spacingAndGlyphs">M10x28 - 8ks</text>
<text class="t" x="864.8" y="100" textLength="61.2" lengthAdjust="spacingAndGlyphs">ORIGINAL</text>
<text class="t" x="107.5" y="388.2" textLength="77.5" lengthAdjust="spacingAndGlyphs">M12x19 - 3ks</text>
<text class="t" x="107.5" y="403.2" textLength="77.5" lengthAdjust="spacingAndGlyphs">M12x21 - 1ks</text>
<rect class="b" x="122.5" y="653.3" width="95" height="30"/>
<text class="t" x="127.5" y="664.8" textLength="84.5" lengthAdjust="spacingAndGlyphs">M12x90 (10.9)</text>
<text class="t" x="146" y="679" textLength="50" lengthAdjust="spacingAndGlyphs">110 Nm!</text>
<text class="t" x="836.3" y="321.2" textLength="46.2" lengthAdjust="spacingAndGlyphs">M12x35</text>
<text class="t" x="616.3" y="461.2" textLength="46.2" lengthAdjust="spacingAndGlyphs">M12x35</text>
<text class="t" x="312" y="508.8" textLength="47.3" lengthAdjust="spacingAndGlyphs">M12x35</text>
<text class="t" x="458.3" y="530.8" textLength="46.7" lengthAdjust="spacingAndGlyphs">M12x35</text>
<text class="t" x="612" y="619.5" textLength="78" lengthAdjust="spacingAndGlyphs">M12x70 - 2ks</text>
<rect class="b" x="616.3" y="662" width="70.5" height="30"/>
<text class="t" x="628" y="673.2" textLength="47" lengthAdjust="spacingAndGlyphs">M10x28</text>
<text class="t" x="620.8" y="688.2" textLength="61.7" lengthAdjust="spacingAndGlyphs">ORIGINAL</text>
<rect class="b" x="921" y="480.8" width="71.3" height="29.8"/>
<text class="t" x="933" y="492.5" textLength="47.5" lengthAdjust="spacingAndGlyphs">M10x28</text>
<text class="t" x="926" y="507.5" textLength="62" lengthAdjust="spacingAndGlyphs">ORIGINAL</text>
<text class="t" x="277" y="715.2" textLength="78" lengthAdjust="spacingAndGlyphs">AIC 325 12 2</text>
<text class="t" x="766.3" y="698.5" textLength="140.0" lengthAdjust="spacingAndGlyphs">VOLKSWAGEN CADDY</text>
<text class="t" x="766.3" y="714" textLength="178.7" lengthAdjust="spacingAndGlyphs">Kód: V0905(A,I,C)&#160;&#160;20. 2. 2021</text>
<text x="986.8" y="714.6" text-anchor="middle" style="font-size:39px;fill:#000;stroke:#fff;stroke-width:0.9">A</text>
<text x="37.6" y="203.3" text-anchor="middle" style="font-size:40px;fill:#000;stroke:#fff;stroke-width:1">C</text>
<text x="38" y="714.3" text-anchor="middle" style="font-size:39px;fill:#000;stroke:#fff;stroke-width:1.8">I</text>
<circle cx="668" cy="393.8" r="24.4" fill="#fff" stroke="#222" stroke-width="0.9"/>
<text x="668.3" y="402.40000000000003" text-anchor="middle" style="font-size:23px;fill:#111;stroke:#fff;stroke-width:0.5">A</text>
<circle cx="414.5" cy="521.8" r="24.4" fill="#fff" stroke="#222" stroke-width="0.9"/>
<text x="414.8" y="530.4" text-anchor="middle" style="font-size:23px;fill:#111;stroke:#fff;stroke-width:0.5">A</text>
<circle cx="552.5" cy="500" r="24.4" fill="#fff" stroke="#222" stroke-width="0.9"/>
<text x="552.8" y="508.6" text-anchor="middle" style="font-size:23px;fill:#111;stroke:#fff;stroke-width:0.5">B</text>
</g>

</svg>
</body></html>
